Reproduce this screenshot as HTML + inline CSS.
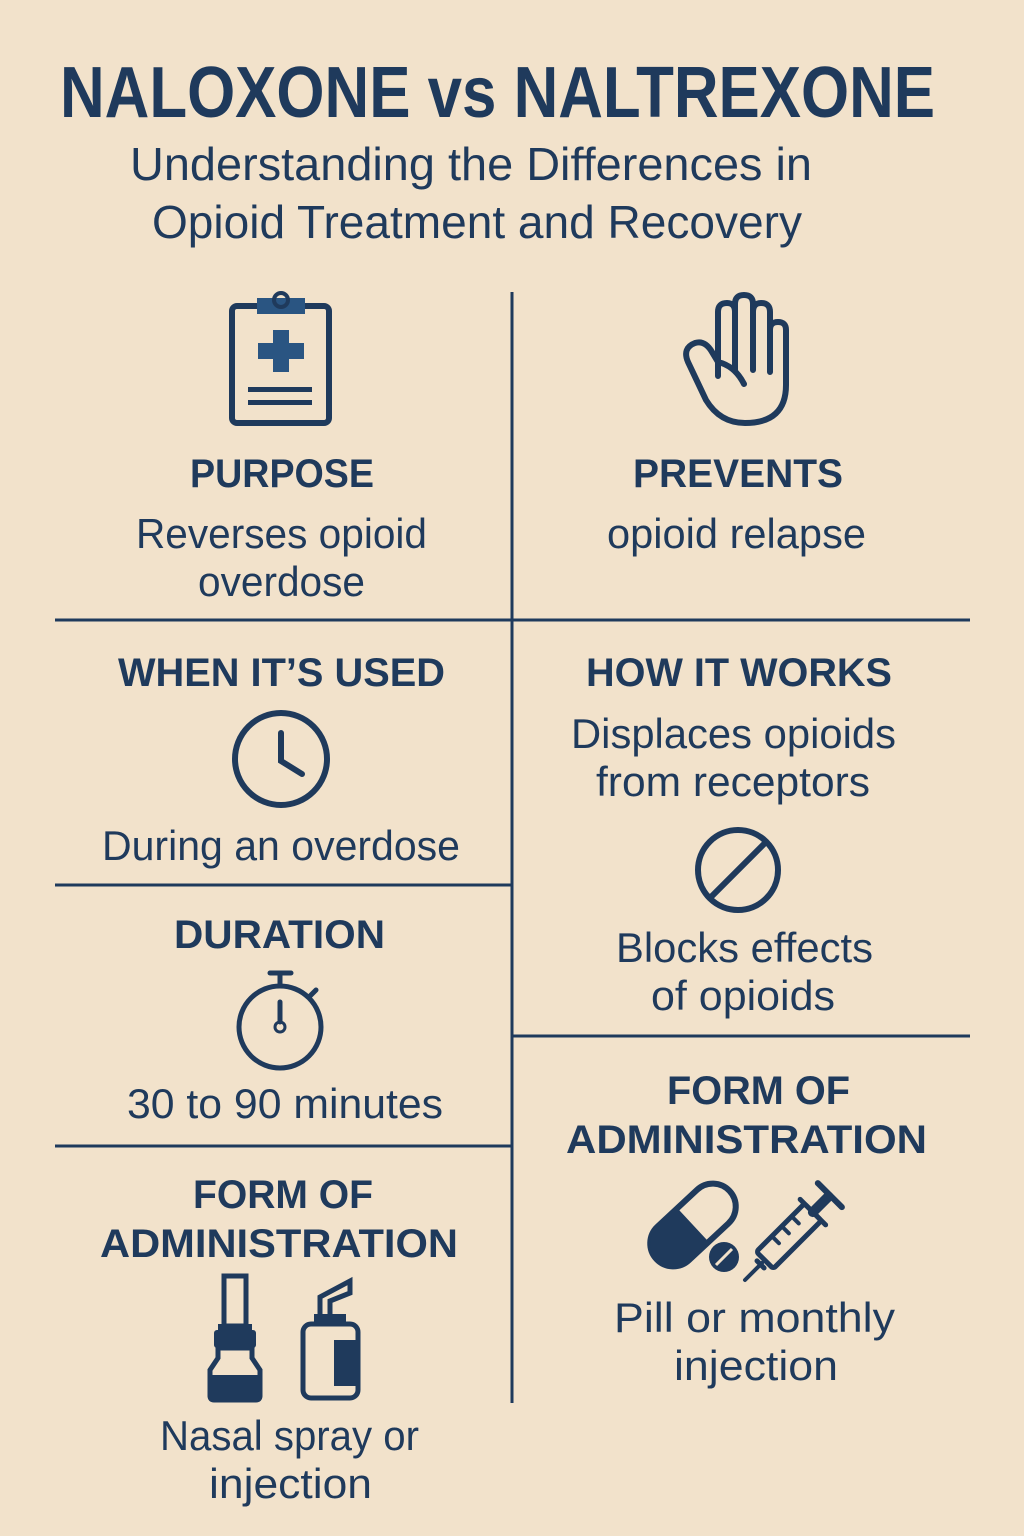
<!DOCTYPE html>
<html><head><meta charset="utf-8"><style>
html,body{margin:0;padding:0;background:#f2e2cb;}
svg{display:block}
text{font-family:"Liberation Sans",sans-serif;fill:#1f3a5c}
.h{font-weight:bold;font-size:40px}
.b{font-size:42px}
</style></head><body>
<svg width="1024" height="1536" viewBox="0 0 1024 1536" xmlns="http://www.w3.org/2000/svg">
<rect width="1024" height="1536" fill="#f2e2cb"/>
<text x="60" y="117" font-size="72" font-weight="bold" textLength="875" lengthAdjust="spacingAndGlyphs">NALOXONE vs NALTREXONE</text>
<text x="130" y="180" font-size="46" textLength="682" lengthAdjust="spacingAndGlyphs">Understanding the Differences in</text>
<text x="152" y="238" font-size="46" textLength="650" lengthAdjust="spacingAndGlyphs">Opioid Treatment and Recovery</text>

<g stroke="#1f3a5c" stroke-width="3" fill="none">
<line x1="512" y1="292" x2="512" y2="1403"/>
<line x1="55" y1="620" x2="970" y2="620"/>
<line x1="55" y1="885" x2="512" y2="885"/>
<line x1="55" y1="1146" x2="512" y2="1146"/>
<line x1="512" y1="1036" x2="970" y2="1036"/>
</g>

<text class="h" x="190" y="487" textLength="184" lengthAdjust="spacingAndGlyphs">PURPOSE</text>
<text class="b" x="136" y="548" textLength="291" lengthAdjust="spacingAndGlyphs">Reverses opioid</text>
<text class="b" x="198" y="596" textLength="167" lengthAdjust="spacingAndGlyphs">overdose</text>
<text class="h" x="118" y="686" textLength="327" lengthAdjust="spacingAndGlyphs">WHEN IT’S USED</text>
<text class="b" x="102" y="860" textLength="358" lengthAdjust="spacingAndGlyphs">During an overdose</text>
<text class="h" x="174" y="948" textLength="211" lengthAdjust="spacingAndGlyphs">DURATION</text>
<text class="b" x="127" y="1118" textLength="316" lengthAdjust="spacingAndGlyphs">30 to 90 minutes</text>
<text class="h" x="193" y="1208" textLength="180" lengthAdjust="spacingAndGlyphs">FORM OF</text>
<text class="h" x="100" y="1257" textLength="358" lengthAdjust="spacingAndGlyphs">ADMINISTRATION</text>
<text class="b" x="160" y="1450" textLength="259" lengthAdjust="spacingAndGlyphs">Nasal spray or</text>
<text class="b" x="209" y="1498" textLength="163" lengthAdjust="spacingAndGlyphs">injection</text>

<text class="h" x="633" y="487" textLength="210" lengthAdjust="spacingAndGlyphs">PREVENTS</text>
<text class="b" x="607" y="548" textLength="259" lengthAdjust="spacingAndGlyphs">opioid relapse</text>
<text class="h" x="586" y="686" textLength="306" lengthAdjust="spacingAndGlyphs">HOW IT WORKS</text>
<text class="b" x="571" y="748" textLength="325" lengthAdjust="spacingAndGlyphs">Displaces opioids</text>
<text class="b" x="596" y="796" textLength="274" lengthAdjust="spacingAndGlyphs">from receptors</text>
<text class="b" x="616" y="962" textLength="257" lengthAdjust="spacingAndGlyphs">Blocks effects</text>
<text class="b" x="651" y="1010" textLength="184" lengthAdjust="spacingAndGlyphs">of opioids</text>
<text class="h" x="667" y="1104" textLength="183" lengthAdjust="spacingAndGlyphs">FORM OF</text>
<text class="h" x="566" y="1153" textLength="361" lengthAdjust="spacingAndGlyphs">ADMINISTRATION</text>
<text class="b" x="614" y="1332" textLength="281" lengthAdjust="spacingAndGlyphs">Pill or monthly</text>
<text class="b" x="674" y="1380" textLength="164" lengthAdjust="spacingAndGlyphs">injection</text>

<g stroke="#1f3a5c" fill="none" stroke-width="6">
<rect x="232" y="306" width="97" height="117" rx="5"/>
</g>
<rect x="257" y="298" width="48" height="16" fill="#2a5582"/>
<circle cx="281" cy="300" r="7" fill="none" stroke="#1f3a5c" stroke-width="4"/>
<rect x="273" y="330" width="16" height="42" fill="#2a5582"/>
<rect x="258" y="343" width="46" height="16" fill="#2a5582"/>
<rect x="248" y="387" width="64" height="5" fill="#1f3a5c"/>
<rect x="248" y="400" width="64" height="5" fill="#1f3a5c"/>

<path d="M718 376 L718 312 Q718 303 727 303 Q735 303 735 312 L735 370 L735 304 Q735 295 744 295 Q753 295 753 304 L753 370 L753 312 Q753 303 761 303 Q770 303 770 312 L770 372 L770 330 Q770 322 778 322 Q786 322 786 330 L786 385 Q786 423 745 423 Q720 423 706 400 L688 362 Q682 348 695 343 Q705 340 712 352 L718 362 Q735 366 744 384" fill="none" stroke="#1f3a5c" stroke-width="6" stroke-linejoin="round" stroke-linecap="round"/>

<g stroke="#1f3a5c" stroke-width="6" fill="none" stroke-linecap="round">
<circle cx="281" cy="759" r="46"/>
<path d="M281 733 L281 761 L302 774"/>
</g>

<g stroke="#1f3a5c" stroke-width="5" fill="none" stroke-linecap="round">
<circle cx="280" cy="1027" r="41"/>
<line x1="270" y1="973" x2="291" y2="973"/>
<line x1="280" y1="973" x2="280" y2="986"/>
<line x1="309" y1="997" x2="316" y2="990"/>
<line x1="280" y1="1002" x2="280" y2="1022"/>
</g>
<circle cx="280" cy="1027" r="5" fill="none" stroke="#1f3a5c" stroke-width="3"/>

<g stroke="#1f3a5c" stroke-width="6" fill="none">
<circle cx="738" cy="870" r="40"/>
<line x1="711" y1="897" x2="765" y2="843"/>
</g>

<g fill="#1f3a5c">
<path d="M224 1276 h22 v50 h-22z" fill="none" stroke="#1f3a5c" stroke-width="5"/>
<rect x="218" y="1324" width="34" height="6"/>
<rect x="214" y="1330" width="42" height="18" rx="3"/>
<path d="M218 1348 h34 v10 l8 12 v26 q0 4 -4 4 h-42 q-4 0 -4 -4 v-26 l8 -12z" fill="none" stroke="#1f3a5c" stroke-width="5"/>
<rect x="212" y="1375" width="46" height="24"/>
</g>
<g fill="#1f3a5c">
<path d="M320 1315 v-18 l30 -16 v12 l-20 8 v14" fill="none" stroke="#1f3a5c" stroke-width="5"/>
<rect x="314" y="1314" width="32" height="10"/>
<rect x="303" y="1324" width="55" height="74" rx="8" fill="none" stroke="#1f3a5c" stroke-width="5"/>
<rect x="334" y="1340" width="24" height="46"/>
</g>

<g transform="translate(693 1225) rotate(-43)">
<rect x="-50" y="-23" width="100" height="46" rx="23" fill="none" stroke="#1f3a5c" stroke-width="6"/>
<path d="M0 -23 H-27 A23 23 0 0 0 -27 23 H0 Z" fill="#1f3a5c"/>
</g>
<circle cx="724" cy="1257" r="15" fill="#1f3a5c"/>
<line x1="716" y1="1265" x2="732" y2="1249" stroke="#f2e2cb" stroke-width="3"/>
<g transform="translate(745 1280) rotate(-45)" stroke="#1f3a5c" fill="none" stroke-linecap="round">
<line x1="0" y1="0" x2="24" y2="0" stroke-width="4"/>
<line x1="22" y1="-5" x2="22" y2="5" stroke-width="5"/>
<rect x="28" y="-12" width="68" height="24" rx="3" stroke-width="5"/>
<line x1="96" y1="-18" x2="96" y2="18" stroke-width="5"/>
<line x1="96" y1="0" x2="118" y2="0" stroke-width="10"/>
<line x1="120" y1="-17" x2="120" y2="17" stroke-width="6"/>
<line x1="50" y1="-12" x2="50" y2="-2" stroke-width="4"/>
<line x1="64" y1="-12" x2="64" y2="-2" stroke-width="4"/>
<line x1="78" y1="-12" x2="78" y2="-2" stroke-width="4"/>
</g>
</svg>
</body></html>
